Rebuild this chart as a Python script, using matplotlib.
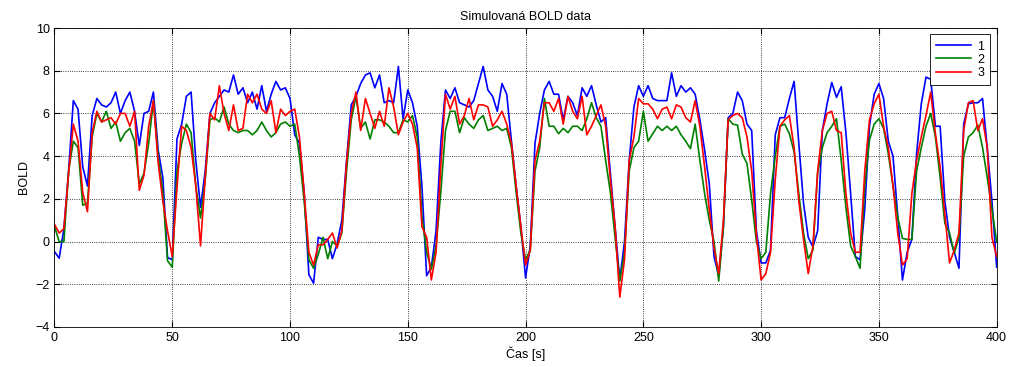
import numpy as np
from matplotlib import pyplot as plt

plt.rcParams['font.family'] = ['Liberation Sans', 'DejaVu Sans']

# cas v sekundach (TR = 2 s)
time = np.arange(0, 401, 2)

# signal 1 (modra)
bold1 = [-0.47, -0.78, 0.6, 3.3, 6.6, 6.2, 3.5, 2.6, 5.9, 6.7,
         6.4, 6.3, 6.5, 7.0, 6.0, 6.6, 7.0, 6.1, 4.5, 6.0,
         6.1, 7.0, 4.3, 3.0, -0.75, -0.85, 4.8, 5.5, 6.8, 7.0,
         3.8, 1.6, 3.3, 6.0, 6.5, 6.8, 7.1, 7.0, 7.8, 6.9,
         7.2, 6.5, 7.0, 6.2, 7.3, 6.1, 6.9, 7.5, 7.1, 7.2, 6.7,
         5.0, 4.6, 2.3, -1.55, -1.95, 0.2, 0.1, 0.1, -0.8, -0.1,
         1.0, 3.8, 6.4, 6.8, 7.4, 7.8, 7.9, 7.2, 7.8, 6.5,
         6.6, 6.5, 8.2, 5.75, 7.1, 6.5, 5.4, 2.6, -1.6, -1.2,
         0.5, 4.6, 7.1, 6.7, 7.2, 6.5, 6.4, 6.3, 6.6, 7.4,
         8.2, 7.1, 6.8, 6.1, 7.4, 6.9, 4.7, 2.6, 0.7, -1.7,
         -0.2, 4.6, 6.0, 7.1, 7.5, 6.9, 6.9, 5.7, 6.8, 6.5,
         5.9, 7.2, 6.8, 7.3, 6.4, 5.6, 5.8, 3.2, 0.7, -1.8,
         0.0, 3.8, 6.3, 7.3, 6.8, 7.3, 6.7, 6.6, 6.6, 6.6,
         7.9, 6.8, 7.3, 7.0, 7.2, 6.9, 5.7, 4.3, 2.7, -0.7,
         -1.6, 0.7, 5.8, 6.0, 7.0, 6.6, 5.5, 5.2, 0.5, -1.0,
         -1.0, -0.4, 5.0, 5.8, 5.8, 6.7, 7.5, 4.6, 1.8, 0.2,
         -0.25, 0.5, 5.2, 6.45, 7.45, 6.75, 7.25, 5.1, 2.25, -0.7,
         -0.85, 1.5, 5.4, 6.9, 7.4, 6.7, 4.7, 4.0, 1.2, -1.8,
         -0.5, 0.1, 4.1, 6.45, 7.7, 7.6, 5.4, 5.4, 1.9, 0.2,
         -0.5, -1.25, 5.5, 6.45, 6.5, 6.5, 6.7, 4.4, 1.9, -1.2]

# signal 2 (zelena)
bold2 = [0.7, 0.0, 0.0, 3.3, 4.7, 4.4, 1.7, 1.8, 4.9, 6.0,
         5.6, 6.1, 5.3, 5.6, 4.7, 5.1, 5.3, 4.7, 2.7, 3.2,
         4.6, 6.6, 4.0, 2.3, -0.9, -1.2, 3.3, 4.6, 5.5, 5.1,
         2.6, 1.1, 2.9, 5.7, 5.8, 5.6, 6.3, 5.5, 5.2, 5.1,
         5.2, 5.2, 5.0, 5.2, 5.6, 5.2, 4.9, 5.1, 5.5, 5.6, 5.4,
         5.5, 4.0, 1.9, -0.85, -1.25, -0.6, 0.2, -0.8, 0.0, -0.2,
         0.4, 3.3, 5.7, 6.8, 5.3, 5.6, 4.8, 5.7, 5.7, 5.6,
         5.4, 5.1, 5.1, 5.7, 5.6, 5.9, 4.9, 1.2, -0.5, -1.3,
         -0.2, 2.3, 5.2, 6.1, 6.1, 5.1, 5.8, 5.5, 5.3, 5.7,
         5.9, 5.2, 5.3, 5.4, 5.2, 5.3, 4.4, 2.3, 0.4, -0.85,
         -0.4, 3.3, 4.4, 6.7, 5.4, 5.4, 5.05, 5.3, 5.1, 5.4,
         5.4, 5.2, 5.75, 6.5, 5.8, 5.4, 3.8, 2.3, 0.2, -1.85,
         -0.5, 3.3, 4.4, 4.7, 6.1, 4.7, 5.05, 5.4, 5.2, 5.4,
         5.2, 5.4, 5.0, 4.7, 4.35, 5.5, 3.8, 2.25, 1.0, 0.0,
         -1.85, 0.7, 5.75, 5.5, 5.45, 4.1, 3.65, 1.95, 0.0, -0.8,
         -0.5, 2.25, 4.0, 5.4, 5.5, 5.05, 4.2, 2.25, 0.4, -0.8,
         -0.4, 3.2, 4.4, 5.1, 5.4, 5.75, 3.8, 1.6, -0.2, -0.7,
         -1.25, 2.6, 4.75, 5.5, 5.75, 5.3, 4.1, 2.6, 1.15, 0.15,
         0.1, 0.1, 3.3, 4.4, 5.4, 6.0, 4.9, 3.0, 0.85, 0.4,
         -0.55, 0.2, 4.0, 4.9, 5.1, 5.45, 4.4, 3.0, 1.5, 0.0]

# signal 3 (cervena)
bold3 = [0.8, 0.4, 0.6, 3.2, 5.5, 4.7, 2.3, 1.4, 5.1, 6.1,
         5.6, 5.7, 5.8, 5.5, 6.0, 6.0, 5.4, 6.1, 2.4, 3.1,
         5.4, 6.6, 3.7, 1.9, 0.5, -0.7, 2.5, 5.4, 5.2, 4.4,
         2.6, -0.2, 3.0, 6.0, 5.7, 7.3, 6.0, 5.2, 6.4, 5.2,
         5.3, 6.9, 6.5, 6.9, 6.2, 6.0, 6.6, 5.1, 6.2, 5.9, 6.1,
         6.2, 4.9, 2.3, -0.5, -1.1, -0.15, -0.15, 0.1, 0.4, -0.3,
         0.5, 3.7, 6.0, 7.0, 5.2, 6.7, 6.0, 5.3, 6.1, 5.4,
         7.2, 6.3, 5.0, 5.6, 6.0, 5.5, 4.4, 0.7, 0.2, -1.8,
         -0.5, 3.5, 6.9, 6.2, 6.8, 5.5, 5.9, 6.7, 5.7, 6.4,
         6.4, 6.3, 5.4, 5.7, 6.1, 5.5, 4.6, 2.6, 0.7, -1.1,
         -0.4, 3.8, 4.7, 6.5, 6.5, 6.1, 6.7, 5.5, 6.8, 6.1,
         5.75, 6.8, 5.0, 5.4, 5.9, 6.4, 5.4, 2.9, 0.7, -2.6,
         -0.85, 3.8, 4.9, 6.7, 6.45, 6.45, 6.2, 5.75, 6.2, 6.3,
         5.75, 6.4, 6.3, 5.8, 5.6, 6.6, 5.4, 3.5, 1.5, -0.3,
         -1.5, 1.0, 5.7, 5.9, 6.0, 5.8, 4.9, 3.3, 0.3, -1.8,
         -1.5, -0.5, 2.9, 5.4, 5.7, 5.9, 4.4, 1.9, 0.1, -1.5,
         -0.2, 3.3, 5.2, 6.0, 6.1, 5.2, 5.1, 2.25, 0.4, -0.5,
         -0.5, 3.3, 5.7, 6.45, 6.9, 5.4, 4.4, 2.6, 0.4, -1.1,
         -0.8, 2.25, 3.8, 4.9, 5.9, 7.0, 5.05, 3.5, 1.3, -1.0,
         -0.4, 0.4, 5.2, 6.5, 6.6, 5.2, 5.75, 4.4, 0.2, -0.7]

labels = ['1', '2', '3']
colors = [(0, 0, 1), (0, 0.5, 0), (1, 0, 0)]

fig = plt.figure(figsize=(10.24, 3.67), dpi=100)
ax = fig.add_axes([0.0532, 0.109, 0.9201, 0.8147])

for y, lab, c in zip([bold1, bold2, bold3], labels, colors):
    ax.plot(time, y, color=c, linewidth=1.2, label=lab)

ax.set_xlim(0, 400)
ax.set_ylim(-4, 10)
ax.set_xticks(np.arange(0, 401, 50))
ax.set_yticks(np.arange(-4, 11, 2))
ax.grid(True, linestyle=':', color='black', linewidth=0.6)
ax.tick_params(direction='in', top=True, right=True, labelsize=9, length=4)
for s in ax.spines.values():
    s.set_linewidth(0.6)

ax.set_title('Simulovaná BOLD data', fontsize=9)
ax.set_xlabel('Čas [s]', fontsize=9, labelpad=2)
ax.set_ylabel('BOLD', fontsize=9)

leg = ax.legend(loc='upper right', fontsize=9, fancybox=False, framealpha=1,
                edgecolor='black', handlelength=2.8, borderaxespad=0.5,
                labelspacing=0.1, handletextpad=0.5, borderpad=0.5)
leg.get_frame().set_linewidth(0.6)

fig.savefig('out.png', dpi=100)
